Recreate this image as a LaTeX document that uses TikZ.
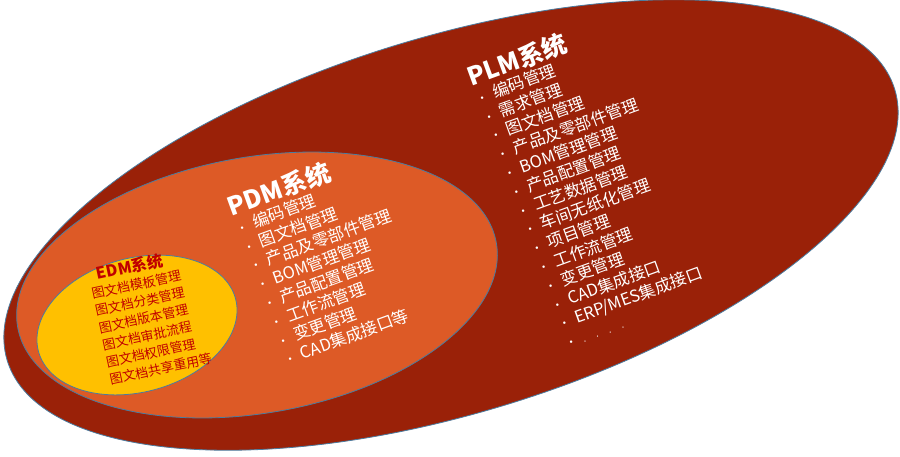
\documentclass[tikz,border=0pt]{standalone}
\usepackage{fontspec}
\setmainfont{Noto Sans CJK SC}
\definecolor{plmred}{HTML}{9A2108}
\definecolor{pdmor}{HTML}{DD5A26}
\definecolor{edmye}{HTML}{FFC000}
\definecolor{edmtx}{HTML}{C00000}
\definecolor{rim}{HTML}{4A7CA0}
\begin{document}
\begin{tikzpicture}[x=1pt,y=1pt,
  ell/.style={draw=rim,line width=0.8pt},
  blk/.style={align=left,anchor=north west,inner sep=0pt,text=white}]
\useasboundingbox (0,0) rectangle (900,-456);
\fill[white] (0,0) rectangle (900,-456);
\draw[ell,fill=plmred] (451,-225) ellipse[x radius=464,y radius=188,rotate=17] node (plm) {};
\draw[ell,fill=pdmor] (257,-285) ellipse[x radius=243,y radius=128,rotate=10] node (pdm) {};
\draw[ell,fill=edmye] (137,-325) ellipse[x radius=102,y radius=67,rotate=15] node (edm) {};
\newcommand{\bl}{\makebox[18pt][l]{\fontsize{12}{12}\selectfont\textbullet}}
\node[blk,rotate=20,font=\fontsize{16.5}{20}\selectfont] (plmt) at (464,-66) {%
{\fontsize{25}{26}\selectfont\bfseries PLM系统}\\[-1pt]
\bl 编码管理\\
\bl 需求管理\\
\bl 图文档管理\\
\bl 产品及零部件管理\\
\bl BOM管理管理\\
\bl 产品配置管理\\
\bl 工艺数据管理\\
\bl 车间无纸化管理\\
\bl 项目管理\\
\bl 工作流管理\\
\bl 变更管理\\
\bl CAD集成接口\\
\bl ERP/MES集成接口\\
\bl {\fontsize{9}{9}\selectfont.\hspace{11pt}.\hspace{11pt}.\hspace{11pt}.}};
\node[blk,rotate=20,font=\fontsize{16.5}{20}\selectfont] (pdmt) at (224,-196) {%
{\fontsize{25}{26}\selectfont\bfseries PDM系统}\\[-1pt]
\bl 编码管理\\
\bl 图文档管理\\
\bl 产品及零部件管理\\
\bl BOM管理管理\\
\bl 产品配置管理\\
\bl 工作流管理\\
\bl 变更管理\\
\bl CAD集成接口等};
\node[blk,rotate=12,text=edmtx,font=\fontsize{13}{17.5}\selectfont] (edmt) at (86,-268) {%
\hspace{9pt}{\fontsize{16}{18}\selectfont\bfseries EDM系统}\\
图文档模板管理\\
图文档分类管理\\
图文档版本管理\\
图文档审批流程\\
图文档权限管理\\
图文档共享重用等};
\end{tikzpicture}
\end{document}
